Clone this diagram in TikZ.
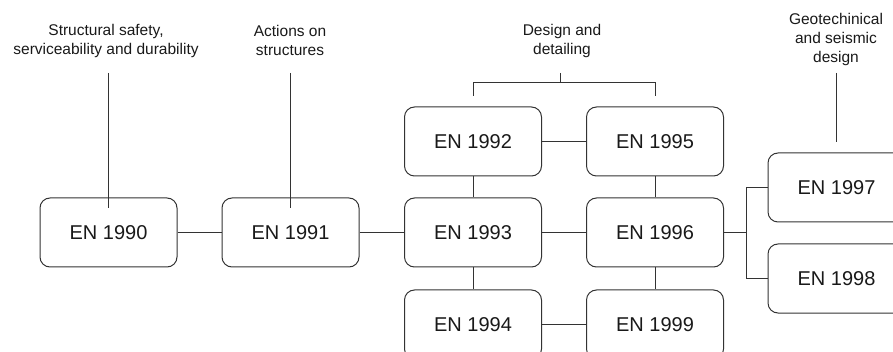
\documentclass[tikz,border=0pt]{standalone}
\usepackage{fontspec}
\setmainfont{Liberation Sans}
\begin{document}
\begin{tikzpicture}[x=1pt,y=-1pt,
  enbox/.style={draw=black!80, line width=1pt, rounded corners=10pt, minimum width=137pt, minimum height=69pt, inner sep=0pt, font=\fontsize{20}{24}\selectfont, text=black!90},
  lbl/.style={align=center, font=\fontsize{15.5}{19}\selectfont, text=black!90, inner sep=0pt},
  conn/.style={draw=black!80, line width=1pt}]
\useasboundingbox (0,0) rectangle (893,352);
\clip (0,0) rectangle (893,352);
% boxes
\node[enbox] (e90) at (108.5,232.5) {EN 1990};
\node[enbox] (e91) at (290.5,232.5) {EN 1991};
\node[enbox] (e92) at (473,141.5) {EN 1992};
\node[enbox] (e93) at (473,232.5) {EN 1993};
\node[enbox] (e94) at (473,324.5) {EN 1994};
\node[enbox] (e95) at (655,141.5) {EN 1995};
\node[enbox] (e96) at (655,232.5) {EN 1996};
\node[enbox] (e99) at (655,324.5) {EN 1999};
\node[enbox] (e97) at (836.5,187.5) {EN 1997};
\node[enbox] (e98) at (836.5,278.5) {EN 1998};
% labels
\node[lbl] (l1) at (106,40.5) {Structural safety,\\serviceability and durability};
\node[lbl] (l2) at (290,40.5) {Actions on\\structures};
\node[lbl] (l3) at (562,40.5) {Design and\\detailing};
\node[lbl] (l4) at (836,39) {Geotechinical\\and seismic\\design};
% label lines
\coordinate (t1) at (108.5,73);
\coordinate (t2) at (290.5,73);
\coordinate (t4) at (836.5,73);
\coordinate (b4) at (836.5,142);
\draw[conn] (t1) -- ([yshift=-11pt]e90.north);
\draw[conn] (t2) -- ([yshift=-11pt]e91.north);
\draw[conn] (t4) -- (b4);
% bracket
\coordinate (bl) at (473,96);
\coordinate (br) at (655,96);
\coordinate (bc) at (560,73);
\draw[conn] (bl) |- (br |- 0,83) -- (br);
\draw[conn] (bc) -- (bc |- 0,83);
% connectors
\draw[conn] (e90) -- (e91);
\draw[conn] (e91) -- (e93);
\draw[conn] (e93) -- (e96);
\draw[conn] (e92) -- (e95);
\draw[conn] (e94) -- (e99);
\draw[conn] (e92) -- (e93);
\draw[conn] (e93) -- (e94);
\draw[conn] (e95) -- (e96);
\draw[conn] (e96) -- (e99);
\coordinate (j) at (746,232.5);
\draw[conn] (e96.east) -- (j);
\draw[conn] (e97.west) -| (j) |- (e98.west);
\end{tikzpicture}
\end{document}
